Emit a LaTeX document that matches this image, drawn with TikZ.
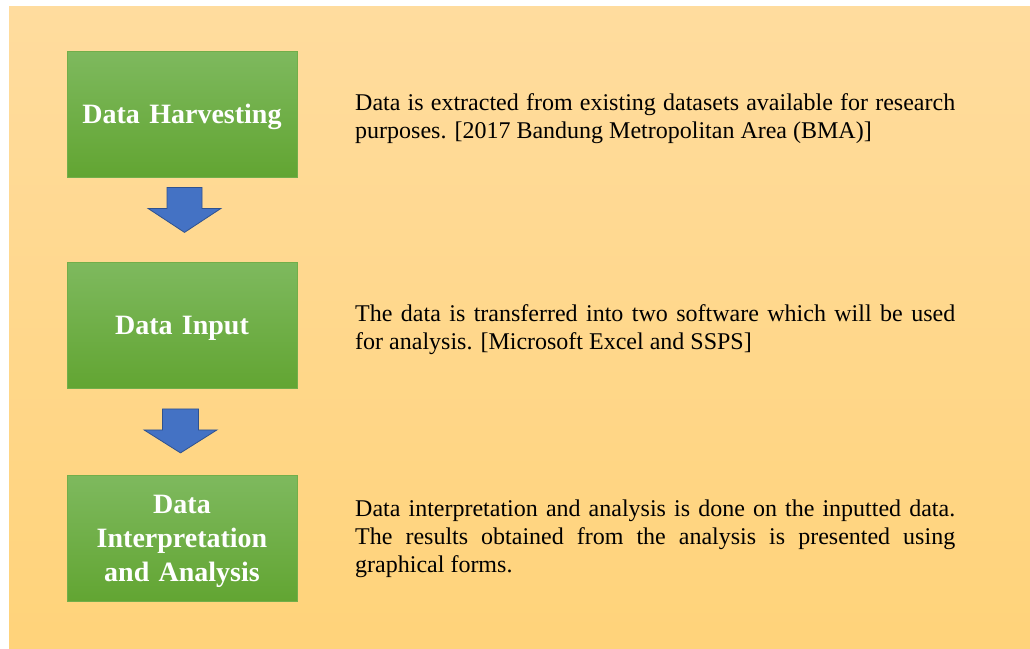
\documentclass[tikz,border=0pt]{standalone}
\usepackage{fontspec}
\setmainfont{Liberation Serif}
\usetikzlibrary{calc}
\definecolor{bgtop}{HTML}{FFDC9E}
\definecolor{bgbot}{HTML}{FFD37A}
\definecolor{gtop}{HTML}{7EB95E}
\definecolor{gbot}{HTML}{62A532}
\definecolor{gline}{HTML}{72AE4A}
\definecolor{afill}{HTML}{4472C4}
\definecolor{aline}{HTML}{2F528F}
\tikzset{
  stepbox/.style={draw=gline, line width=0.8pt, top color=gtop, bottom color=gbot,
    minimum width=230pt, minimum height=126pt, inner sep=0pt},
  boxtext/.style={inner sep=0pt, text width=220pt, align=center, text=white,
    yshift=-3pt, font=\fontsize{28}{34}\selectfont\bfseries},
  desc/.style={anchor=base west, inner sep=0pt, text width=600pt, align=justify,
    font=\fontsize{24}{28}\selectfont},
  blockarrow/.style={draw=aline, line width=0.8pt, fill=afill, line join=miter}
}
\begin{document}
\begin{tikzpicture}[x=1pt,y=-1pt]
\useasboundingbox (0,0) rectangle (1030,648);
\shade[top color=bgtop, bottom color=bgbot] (9,6) rectangle (1030,648);

\node[stepbox, label={[boxtext]center:Data Harvesting}] (h) at (182,114) {};
\node[stepbox, label={[boxtext]center:Data Input}] (i) at (182,325.5) {};
\node[stepbox, label={[boxtext]center:{Data\\Interpretation\\and Analysis}}] (a) at (182,538.5) {};

\node[desc] (dh) at (355,110) {\parindent=0pt\hyphenpenalty=10000\tolerance=9999 Data is extracted from existing datasets available for research\linebreak purposes. [2017 Bandung Metropolitan Area (BMA)]};
\node[desc] (di) at (355,321) {\parindent=0pt\hyphenpenalty=10000\tolerance=9999 The data is transferred into two software which will be used\linebreak for analysis. [Microsoft Excel and SSPS]};
\node[desc] (da) at (355,516) {\parindent=0pt\hyphenpenalty=10000\tolerance=9999 Data interpretation and analysis is done on the inputted data.\linebreak The results obtained from the analysis is presented using\linebreak graphical forms.};

\draw[blockarrow, shift={(h.south)}]
  (-15,10) -- (20,10) -- (20,31) -- (39,31) -- (2.5,55) -- (-34,31) -- (-15,31) -- cycle;
\draw[blockarrow, shift={(i.south)}]
  (-19.5,20) -- (16.5,20) -- (16.5,41) -- (35,41) -- (-1.5,64) -- (-38,41) -- (-19.5,41) -- cycle;
\end{tikzpicture}
\end{document}
